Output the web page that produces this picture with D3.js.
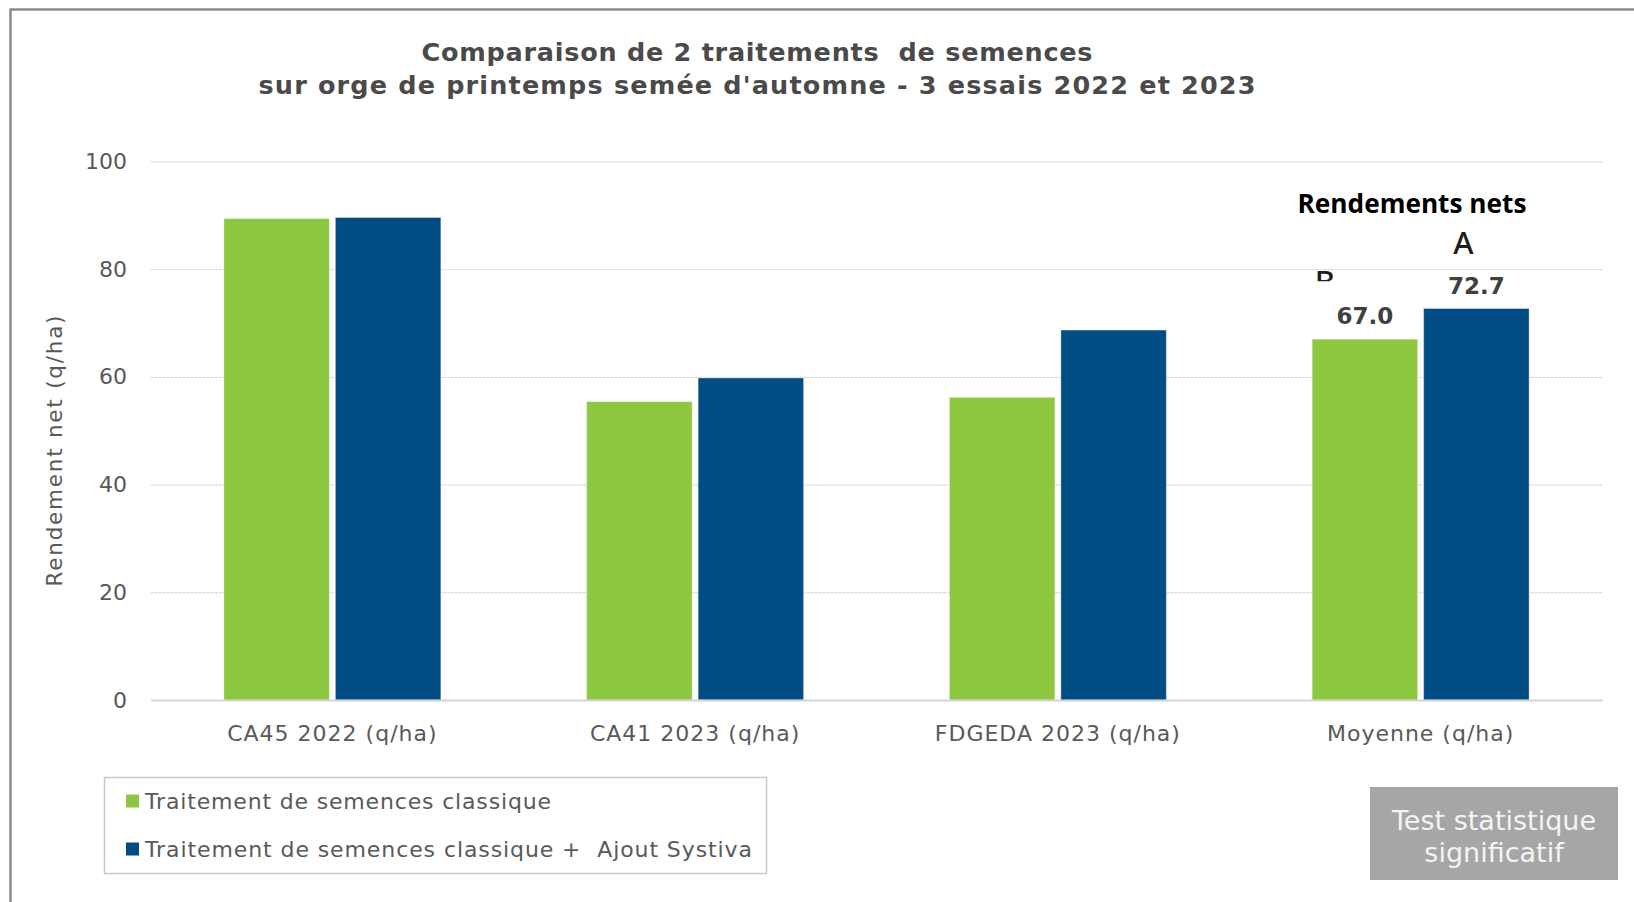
<!DOCTYPE html>
<html>
<head>
<meta charset="utf-8">
<script src="https://cdn.jsdelivr.net/npm/d3@7"></script>
<style>
  html, body { margin: 0; padding: 0; background: #ffffff; }
  svg { display: block; }
  text { white-space: pre; }
</style>
</head>
<body>
<svg id="chart" width="1634" height="902"></svg>
<script>
// Net yield (q/ha) per trial, for the two seed treatments
const categories = ["CA45 2022 (q/ha)", "CA41 2023 (q/ha)", "FDGEDA 2023 (q/ha)", "Moyenne (q/ha)"];
const seriesNames = ["Traitement de semences classique", "Traitement de semences classique +  Ajout Systiva"];
const classique = [89.4, 55.4, 56.2, 67.0];
const systiva = [89.6, 59.8, 68.7, 72.7];
const yTicks = [0, 20, 40, 60, 80, 100];
// statistical groups shown above the mean bars
const meanGroups = ["B", "A"];
const meanCategory = "Moyenne (q/ha)";

const colors = ["#8dc63f", "#024c84"];
const series = [classique, systiva];

const svg = d3.select("#chart");
const W = 1634, H = 902;

svg.append("rect").attr("width", W).attr("height", H).attr("fill", "#fff");

// outer frame (top and left edges)
svg.append("path")
  .attr("d", "M10.5,902 L10.5,9.5 L1634,9.5")
  .attr("fill", "none").attr("stroke", "#8a8a8a").attr("stroke-width", 2.5);

const plot = { left: 151, right: 1602, top: 161.5, bottom: 700 };

const x0 = d3.scaleBand().domain(categories)
  .range([plot.left, plot.right]).paddingInner(0.402).paddingOuter(0.201);
const x1 = d3.scaleBand().domain(d3.range(series.length))
  .range([0, x0.bandwidth()]).paddingInner(0.054);
const y = d3.scaleLinear().domain([0, 100]).range([plot.bottom, plot.top]);

// title
const title = svg.append("g")
  .attr("font-family", "DejaVu Sans, Verdana, sans-serif")
  .attr("font-weight", "bold").attr("font-size", 25.5)
  .attr("fill", "#4a4a4a").attr("text-anchor", "middle");
title.append("text").attr("x", 757).attr("y", 61)
  .attr("textLength", 671).attr("lengthAdjust", "spacing")
  .text("Comparaison de 2 traitements  de semences");
title.append("text").attr("x", 757).attr("y", 94)
  .attr("textLength", 997).attr("lengthAdjust", "spacing")
  .text("sur orge de printemps semée d'automne - 3 essais 2022 et 2023");

// gridlines
const grid = svg.append("g").attr("transform", `translate(${plot.left},0)`)
  .call(d3.axisLeft(y).tickValues(yTicks).tickSize(-(plot.right - plot.left)).tickFormat(""));
grid.select(".domain").remove();
grid.selectAll(".tick line").attr("stroke", "#cfcfcf").attr("stroke-width", 1)
  .attr("stroke-dasharray", "3,1");

// y axis labels
const yAxis = svg.append("g").attr("transform", `translate(${plot.left},0)`)
  .call(d3.axisLeft(y).tickValues(yTicks).tickSize(0).tickPadding(24));
yAxis.select(".domain").remove();
yAxis.selectAll("text")
  .attr("font-family", "DejaVu Sans, Verdana, sans-serif")
  .attr("font-size", 22).attr("fill", "#595959");

// y axis title
svg.append("text")
  .attr("transform", "translate(54,451) rotate(-90)")
  .attr("text-anchor", "middle").attr("dy", "0.35em")
  .attr("font-family", "DejaVu Sans, Verdana, sans-serif")
  .attr("font-size", 21.5).attr("fill", "#595959")
  .attr("textLength", 271).attr("lengthAdjust", "spacing")
  .text("Rendement net (q/ha)");

// bars
const groups = svg.append("g").selectAll("g").data(categories).join("g")
  .attr("transform", d => `translate(${x0(d)},0)`);
groups.selectAll("rect")
  .data((d, i) => series.map((s, k) => ({ k, v: s[i] })))
  .join("rect")
  .attr("x", d => x1(d.k))
  .attr("width", x1.bandwidth())
  .attr("y", d => y(d.v))
  .attr("height", d => y(0) - y(d.v))
  .attr("fill", d => colors[d.k])
  .attr("stroke", "rgba(255,255,255,0.35)").attr("stroke-width", 1);

// x axis
const xAxis = svg.append("g").attr("transform", `translate(0,${plot.bottom})`)
  .call(d3.axisBottom(x0).tickSize(0).tickPadding(25));
xAxis.select(".domain").attr("stroke", "#d4d4d4").attr("stroke-width", 2);
xAxis.selectAll("text")
  .attr("font-family", "DejaVu Sans, Verdana, sans-serif")
  .attr("font-size", 22).attr("letter-spacing", 1).attr("fill", "#595959");

// statistical group letters on the mean bars
const mi = categories.indexOf(meanCategory);
const letters = svg.append("g")
  .attr("font-family", "Noto Sans, Open Sans, sans-serif")
  .attr("font-weight", 500)
  .attr("font-size", 31).attr("fill", "#1e1e1e").attr("text-anchor", "middle");
letters.append("text")
  .attr("x", x0(meanCategory) + x1(0) + x1.bandwidth() / 2 - 40)
  .attr("y", y(series[0][mi]) - 46).text(meanGroups[0]);
letters.append("text")
  .attr("x", x0(meanCategory) + x1(1) + x1.bandwidth() / 2 - 13)
  .attr("y", y(series[1][mi]) - 55).text(meanGroups[1]);

// value labels on the mean bars, on a white label background
const fmt = d3.format(".1f");
const lblG = svg.append("g");
lblG.append("rect")
  .attr("x", x0(meanCategory) + x1(0) - 8)
  .attr("y", y(series[0][mi]) - 58)
  .attr("width", x1.bandwidth() + 4)
  .attr("height", 50)
  .attr("fill", "#fff");
series.forEach((s, k) => {
  lblG.append("text")
    .attr("x", x0(meanCategory) + x1(k) + x1.bandwidth() / 2)
    .attr("y", y(s[mi]) - 15)
    .attr("text-anchor", "middle")
    .attr("font-family", "DejaVu Sans, Verdana, sans-serif")
    .attr("font-weight", "bold").attr("font-size", 23).attr("fill", "#404040")
    .text(fmt(s[mi]));
});

// heading above the mean group
svg.append("text")
  .attr("x", 1412).attr("y", 213)
  .attr("text-anchor", "middle")
  .attr("font-family", "Open Sans, Liberation Sans, sans-serif")
  .attr("font-weight", "bold").attr("font-size", 27).attr("fill", "#000")
  .attr("textLength", 229).attr("lengthAdjust", "spacingAndGlyphs")
  .text("Rendements nets");

// legend
const legend = svg.append("g");
legend.append("rect")
  .attr("x", 104.5).attr("y", 777.5).attr("width", 662).attr("height", 96)
  .attr("fill", "#fff").attr("stroke", "#c8c8c8").attr("stroke-width", 1.5);
const legendWidths = [406, 607];
const items = legend.selectAll("g.item").data(seriesNames).join("g")
  .attr("class", "item")
  .attr("transform", (d, i) => `translate(126,${801 + i * 48})`);
items.append("rect")
  .attr("x", 0).attr("y", -6.5).attr("width", 13).attr("height", 13)
  .attr("fill", (d, i) => colors[i]);
items.append("text")
  .attr("x", 19).attr("y", 8)
  .attr("font-family", "DejaVu Sans, Verdana, sans-serif")
  .attr("font-size", 22).attr("fill", "#595959")
  .attr("textLength", (d, i) => legendWidths[i]).attr("lengthAdjust", "spacing")
  .text(d => d);

// significance note
const note = svg.append("g");
note.append("rect")
  .attr("x", 1370).attr("y", 787).attr("width", 248).attr("height", 93)
  .attr("fill", "#a6a6a6");
const noteText = note.append("text")
  .attr("text-anchor", "middle")
  .attr("font-family", "DejaVu Sans, Verdana, sans-serif")
  .attr("font-size", 27).attr("fill", "#f4f4f4");
noteText.append("tspan").attr("x", 1494).attr("y", 830).text("Test statistique");
noteText.append("tspan").attr("x", 1494).attr("y", 862).text("significatif");
</script>
</body>
</html>
